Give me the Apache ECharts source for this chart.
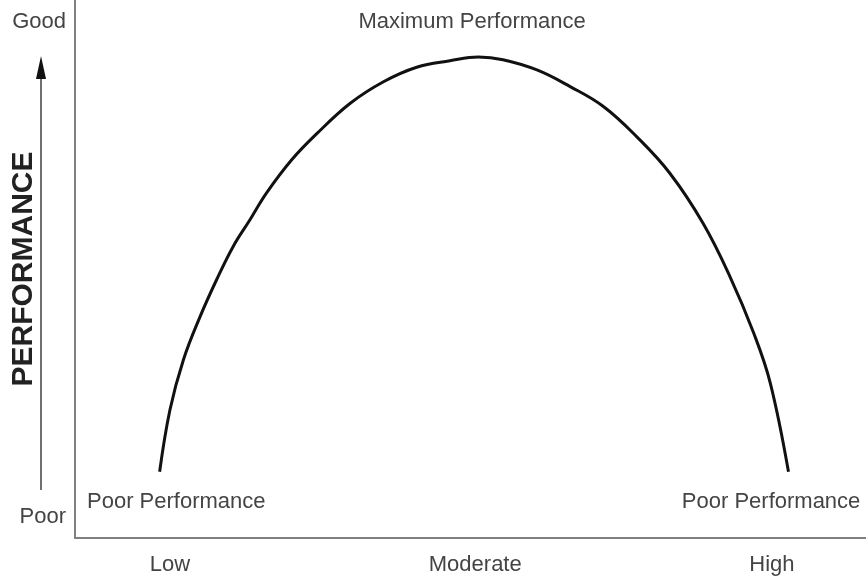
<!DOCTYPE html>
<html>
<head>
<meta charset="utf-8">
<script src="https://cdn.jsdelivr.net/npm/echarts@6/dist/echarts.min.js"></script>
<style>
  html, body { margin: 0; padding: 0; background: #fff; }
  #chart { width: 866px; height: 584px; }
</style>
</head>
<body>
<div id="chart"></div>
<script>
// 横轴：压力/唤醒水平 0-100，纵轴：表现 0-100
const curveX = [10.7, 12.0, 13.7, 15.8, 17.9, 20.0, 22.1, 24.2, 27.4, 30.6, 34.8, 39.0, 43.2, 47.4, 51.0,
                54.1, 58.4, 62.6, 66.8, 71.0, 75.2, 79.4, 82.8, 85.8, 87.9, 90.2];
const curveY = [12.3, 23.8, 33.1, 41.1, 48.0, 54.2, 59.1, 64.1, 70.3, 75.2, 80.8, 84.8, 87.5, 88.7, 89.4,
                88.9, 87.0, 83.9, 80.2, 74.6, 67.8, 58.5, 48.6, 38.1, 28.8, 12.3];

const xTickValues = [12, 50.6, 88.1];
const xTickLabels = ['Low', 'Moderate', 'High'];
const yTickValues = [4, 96];
const yTickLabels = ['Poor', 'Good'];

const noteX = [12.8, 50.2, 88.0];
const noteY = [6.7, 95.9, 6.7];
const noteText = ['Poor Performance', 'Maximum Performance', 'Poor Performance'];

const font = "'Liberation Sans', Arial, sans-serif";
const textColor = '#444';

const chart = echarts.init(document.getElementById('chart'));

const option = {
  animation: false,
  grid: { left: 75, right: 0, top: 0, bottom: 46, outerBoundsMode: 'none', containLabel: false },
  xAxis: {
    type: 'value',
    min: 0,
    max: 100,
    splitLine: { show: false },
    axisTick: { show: false },
    axisLine: { lineStyle: { color: '#808080', width: 2 } },
    axisLabel: {
      customValues: xTickValues,
      formatter: v => xTickLabels[xTickValues.indexOf(v)],
      color: textColor,
      fontFamily: font,
      fontSize: 22,
      margin: 16
    }
  },
  yAxis: {
    type: 'value',
    min: 0,
    max: 100,
    name: 'PERFORMANCE',
    nameLocation: 'middle',
    nameRotate: 90,
    nameGap: 36,
    nameMoveOverlap: false,
    nameTextStyle: { fontFamily: font, fontWeight: 'bold', fontSize: 30, color: '#222' },
    splitLine: { show: false },
    axisTick: { show: false },
    axisLine: { show: true, lineStyle: { color: '#808080', width: 2 } },
    axisLabel: {
      customValues: yTickValues,
      formatter: v => yTickLabels[yTickValues.indexOf(v)],
      color: textColor,
      fontFamily: font,
      fontSize: 22,
      margin: 9
    }
  },
  series: [
    {
      name: 'Performance',
      type: 'line',
      smooth: 0.4,
      symbol: 'none',
      lineStyle: { color: '#111', width: 3 },
      data: curveX.map((x, i) => [x, curveY[i]])
    },
    {
      name: 'notes',
      type: 'scatter',
      symbolSize: 0,
      silent: true,
      itemStyle: { opacity: 1 },
      data: noteX.map((x, i) => [x, noteY[i], noteText[i]]),
      label: {
        show: true,
        position: 'inside',
        formatter: p => p.data[2],
        color: textColor,
        opacity: 1,
        fontFamily: font,
        fontSize: 22
      }
    }
  ],
  // 纵向箭头
  graphic: [
    {
      type: 'line',
      shape: { x1: 41, y1: 490, x2: 41, y2: 72 },
      style: { stroke: '#707070', lineWidth: 2 }
    },
    {
      type: 'polygon',
      shape: { points: [[41, 56], [36, 79], [46, 79]] },
      style: { fill: '#111' }
    }
  ]
};

chart.setOption(option);
</script>
</body>
</html>
